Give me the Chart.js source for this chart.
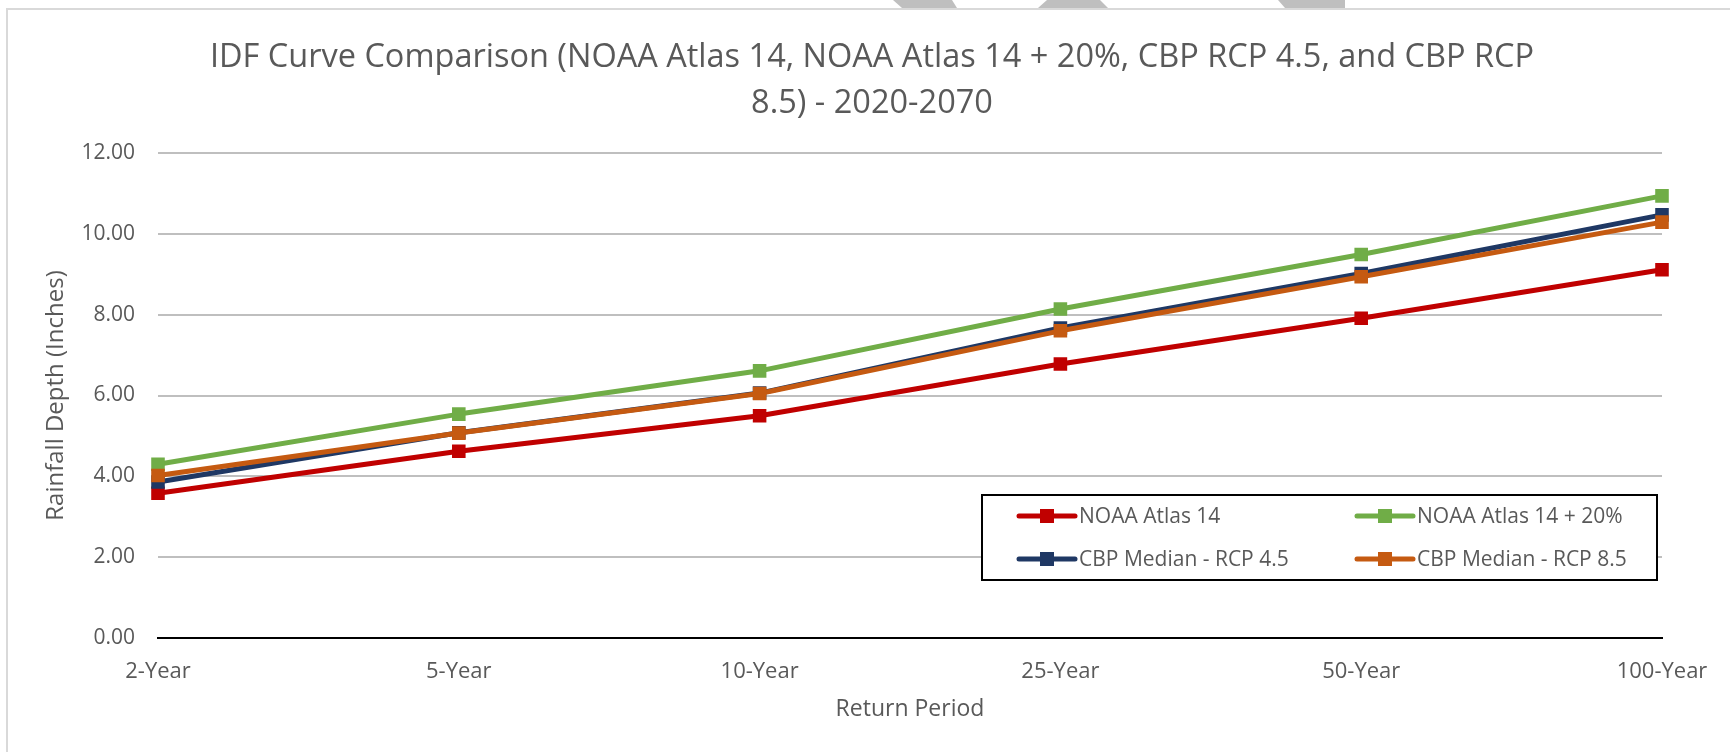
<!DOCTYPE html>
<html>
<head>
<meta charset="utf-8">
<script src="https://cdn.jsdelivr.net/npm/chart.js@4.4.1/dist/chart.umd.min.js"></script>
<style>
  html, body { margin: 0; padding: 0; background: #ffffff; }
  #wrap { width: 1730px; height: 752px; position: relative; }
</style>
</head>
<body>
<div id="wrap"><canvas id="c" width="1730" height="752"></canvas></div>
<script>
const categories = ['2-Year', '5-Year', '10-Year', '25-Year', '50-Year', '100-Year'];
const noaaAtlas14 = [3.58, 4.62, 5.50, 6.78, 7.91, 9.11];
const noaaAtlas14Plus20 = [4.30, 5.54, 6.61, 8.14, 9.49, 10.94];
const cbpRcp45 = [3.86, 5.08, 6.06, 7.67, 9.02, 10.47];
const cbpRcp85 = [4.02, 5.07, 6.05, 7.60, 8.94, 10.29];
const seriesNames = ['NOAA Atlas 14', 'NOAA Atlas 14 + 20%', 'CBP Median - RCP 4.5', 'CBP Median - RCP 8.5'];
const yTickValues = [0, 2, 4, 6, 8, 10, 12];
const titleLines = ['IDF Curve Comparison (NOAA Atlas 14, NOAA Atlas 14 + 20%, CBP RCP 4.5, and CBP RCP', '8.5) - 2020-2070'];

const FONT = "'Open Sans', 'Noto Sans', sans-serif";
const TEXT = '#595959';
const colors = ['#C00000', '#70AD47', '#1F3864', '#C55A11'];

function ds(i, data, order) {
  return {
    label: seriesNames[i], data: data, order: order,
    borderColor: colors[i], backgroundColor: colors[i],
    borderWidth: 5, tension: 0, borderJoinStyle: 'round', borderCapStyle: 'round',
    pointStyle: 'rect', pointRadius: 9.6, pointHoverRadius: 9.6,
    pointBorderWidth: 0, pointBackgroundColor: colors[i], pointBorderColor: colors[i]
  };
}

const framePlugin = {
  id: 'frame',
  beforeDraw(chart) {
    const ctx = chart.ctx;
    ctx.save();
    ctx.fillStyle = '#ffffff';
    ctx.fillRect(0, 0, chart.width, chart.height);
    ctx.fillStyle = '#bfbfbf';
    const shapes = [
      [[893, 0], [952, 0], [957, 8], [902, 8]],
      [[1047, 0], [1100, 0], [1108, 8], [1038, 8]],
      [[1278, 0], [1345, 0], [1345, 8], [1285, 8]]
    ];
    shapes.forEach(s => {
      ctx.beginPath();
      ctx.moveTo(s[0][0], s[0][1]);
      for (let k = 1; k < s.length; k++) ctx.lineTo(s[k][0], s[k][1]);
      ctx.closePath();
      ctx.fill();
    });
    ctx.strokeStyle = '#d9d9d9';
    ctx.lineWidth = 2;
    ctx.beginPath();
    ctx.moveTo(7, chart.height);
    ctx.lineTo(7, 9);
    ctx.lineTo(chart.width, 9);
    ctx.stroke();
    ctx.fillStyle = TEXT;
    ctx.font = "32.5px " + FONT;
    ctx.textAlign = 'center';
    ctx.textBaseline = 'middle';
    ctx.fillText(titleLines[0], 872, 58);
    ctx.fillText(titleLines[1], 872, 104);
    ctx.restore();
  }
};

const legendPlugin = {
  id: 'boxLegend',
  afterDraw(chart) {
    const ctx = chart.ctx;
    const box = { l: 982, t: 495, r: 1657, b: 580 };
    ctx.save();
    ctx.fillStyle = '#ffffff';
    ctx.fillRect(box.l, box.t, box.r - box.l, box.b - box.t);
    ctx.strokeStyle = '#000000';
    ctx.lineWidth = 2;
    ctx.strokeRect(box.l, box.t, box.r - box.l, box.b - box.t);
    const cols = [1019, 1357];
    const rows = [516, 559];
    ctx.font = "21px " + FONT;
    ctx.textBaseline = 'middle';
    ctx.textAlign = 'left';
    chart.data.datasets.forEach((d, i) => {
      const x = cols[i % 2], y = rows[Math.floor(i / 2)];
      ctx.strokeStyle = d.borderColor;
      ctx.lineWidth = 5;
      ctx.lineCap = 'round';
      ctx.beginPath();
      ctx.moveTo(x, y);
      ctx.lineTo(x + 56, y);
      ctx.stroke();
      ctx.fillStyle = d.borderColor;
      ctx.fillRect(x + 28 - 7, y - 7, 14, 14);
      ctx.fillStyle = TEXT;
      ctx.fillText(d.label, x + 60, y + 1);
    });
    ctx.restore();
  }
};

new Chart(document.getElementById('c'), {
  type: 'line',
  data: {
    labels: categories,
    datasets: [
      ds(0, noaaAtlas14, 4),
      ds(1, noaaAtlas14Plus20, 3),
      ds(2, cbpRcp45, 2),
      ds(3, cbpRcp85, 1)
    ]
  },
  options: {
    responsive: false,
    animation: false,
    devicePixelRatio: 1,
    layout: { padding: { left: 0, right: 68, top: 153, bottom: 0 } },
    plugins: { legend: { display: false }, title: { display: false }, tooltip: { enabled: false } },
    scales: {
      x: {
        offset: false,
        grid: { display: false, drawTicks: false },
        border: { display: true, color: '#000000', width: 2 },
        ticks: { color: TEXT, font: { family: FONT, size: 22 }, padding: 21, maxRotation: 0, autoSkip: false },
        title: { display: true, text: 'Return Period', color: TEXT, font: { family: FONT, size: 23 }, padding: { top: 0, bottom: 29 } },
        afterFit(s) { s.height = 114; }
      },
      y: {
        min: yTickValues[0], max: yTickValues[yTickValues.length - 1],
        afterBuildTicks(s) { s.ticks = yTickValues.map(v => ({ value: v })); },
        grid: { color: '#bfbfbf', lineWidth: 2, drawTicks: false },
        border: { display: false },
        ticks: { color: TEXT, font: { family: FONT, size: 21 }, padding: 23, callback: v => Number(v).toFixed(2) },
        title: { display: true, text: 'Rainfall Depth (Inches)', color: TEXT, font: { family: FONT, size: 24 }, padding: { top: 42, bottom: 0 } },
        afterFit(s) { s.width = 158; }
      }
    }
  },
  plugins: [framePlugin, legendPlugin]
});
</script>
</body>
</html>
